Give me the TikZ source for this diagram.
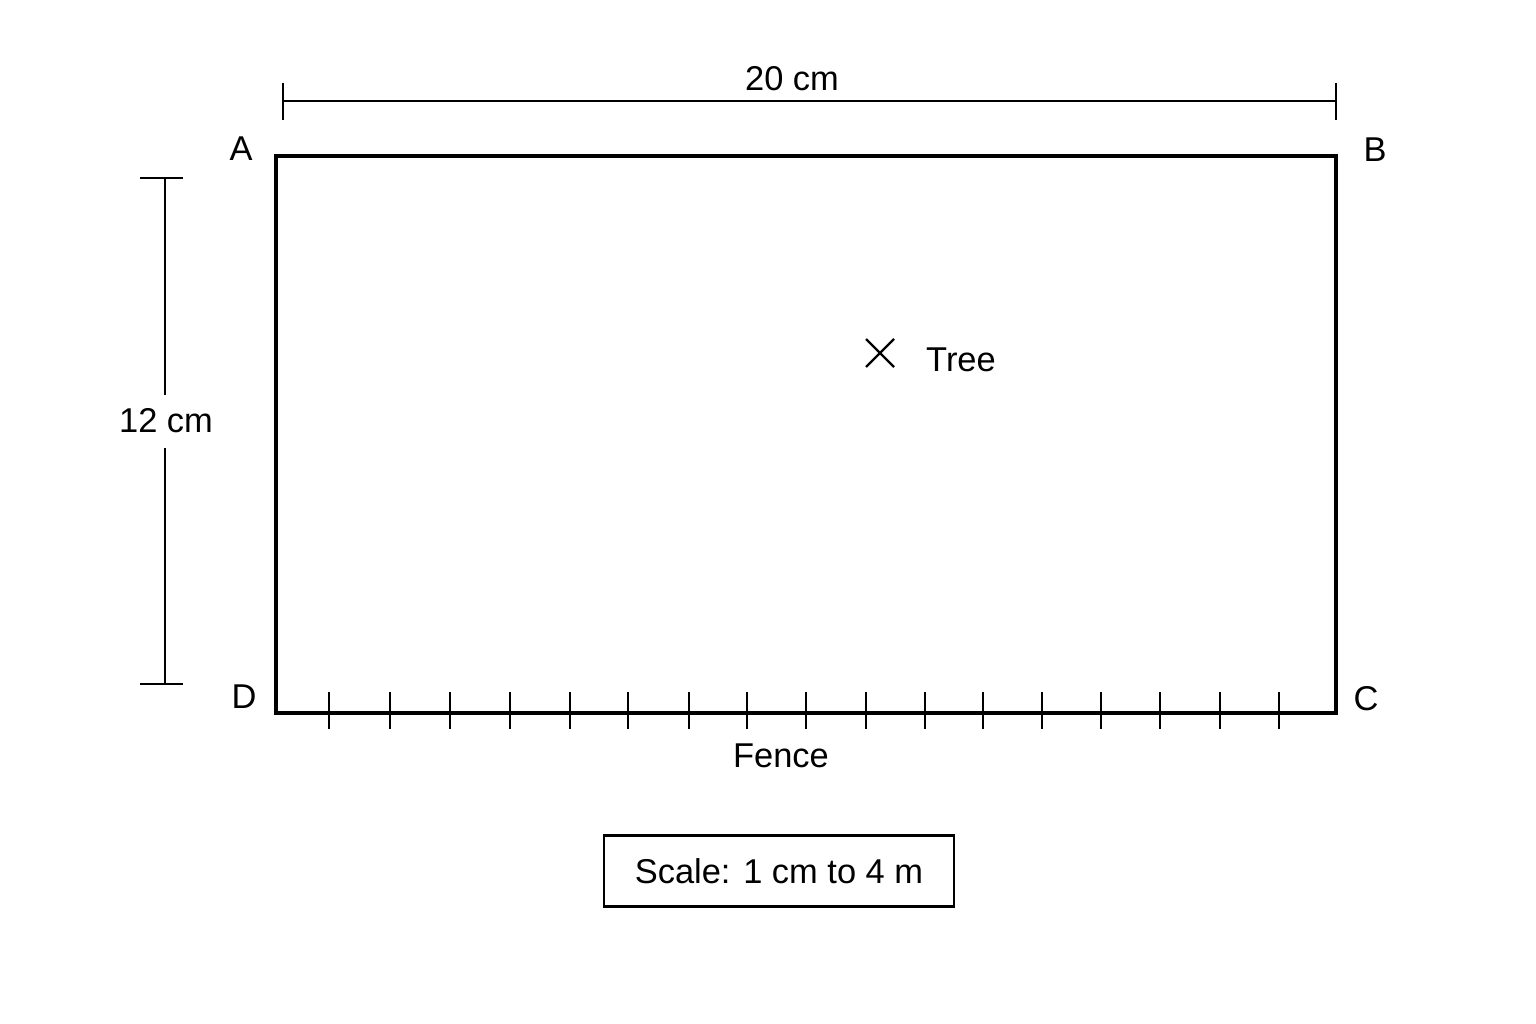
\documentclass[tikz,border=0pt]{standalone}
\usepackage{fontspec}
\setmainfont{Liberation Sans}
\usepackage{tikz}
\tikzset{
	plotstyle/.style={line width=1.9pt,line join=miter},
	dimstyle/.style={line width=1.3pt},
	labelstyle/.style={inner sep=0pt,font=\fontsize{19.6}{24}\selectfont},
	scalestyle/.style={rectangle,draw=black,line width=1.3pt,minimum width=350*0.02cm,minimum height=71*0.02cm,font=\fontsize{19.6}{24}\selectfont}
}
\begin{document}
\begin{tikzpicture}[x=0.02cm,y=-0.02cm]
	\useasboundingbox (0,0) rectangle (1536,1024);
	% corners of the plot
	\coordinate (A) at (276,156);
	\coordinate (B) at (1336,156);
	\coordinate (C) at (1336,713);
	\coordinate (D) at (276,713);
	\draw[plotstyle] (A)--(B)--(C)--(D)--cycle;
	\node[labelstyle] (la) at (241,149) {A};
	\node[labelstyle] (lb) at (1375,150) {B};
	\node[labelstyle] (lc) at (1366,699) {C};
	\node[labelstyle] (ld) at (244,697) {D};
	% width
	\coordinate (wl) at (283,101);
	\coordinate (wr) at (1336,101);
	\draw[dimstyle] (wl)--(wr);
	\draw[dimstyle] (283,83)--(283,120) (1336,83)--(1336,120);
	\node[labelstyle] (wt) at (792,79) {20 cm};
	% height
	\node[labelstyle] (ht) at (166,421) {12 cm};
	\coordinate (ht1) at (165,178);
	\coordinate (hb1) at (165,684);
	\draw[dimstyle] (ht1)--(165,395) (165,448)--(hb1);
	\draw[dimstyle] (140,178)--(183,178) (140,684)--(183,684);
	% tree
	\coordinate (tr) at (880,353);
	\draw[dimstyle] (866,339)--(894,367) (866,367)--(894,339);
	\node[labelstyle] (tt) at (961,360) {Tree};
	% fence
	\draw[dimstyle] (329,692)--(329,729) (390,692)--(390,729) (450,692)--(450,729)
	(510,692)--(510,729) (570,692)--(570,729) (628,692)--(628,729)
	(689,692)--(689,729) (747,692)--(747,729) (806,692)--(806,729)
	(866,692)--(866,729) (925,692)--(925,729) (983,692)--(983,729)
	(1042,692)--(1042,729) (1101,692)--(1101,729) (1160,692)--(1160,729)
	(1220,692)--(1220,729) (1279,692)--(1279,729);
	\node[labelstyle] (ft) at (781,756) {Fence};
	% scale
	\node[scalestyle] (sc) at (779,871) {Scale: 1 cm to 4 m};
\end{tikzpicture}
\end{document}
